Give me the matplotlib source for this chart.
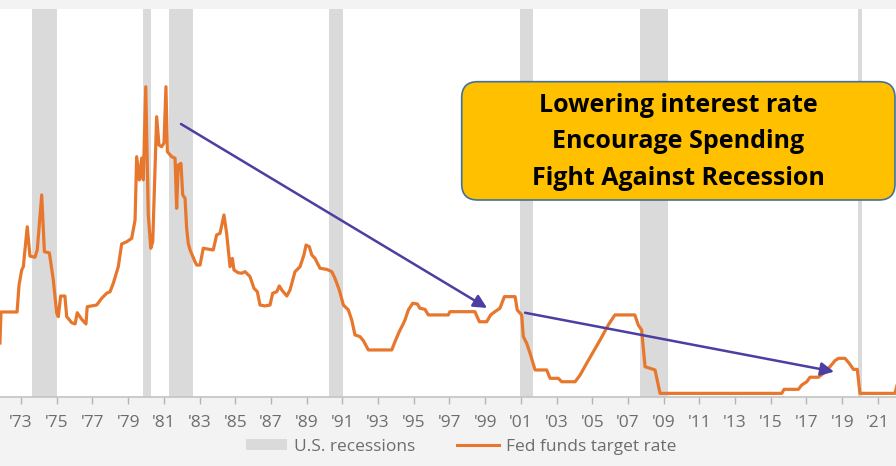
import matplotlib
matplotlib.use("Agg")
import matplotlib.pyplot as plt
from matplotlib.patches import FancyBboxPatch, Patch
from matplotlib.lines import Line2D

# Fed funds target rate (%)
rate_years = [1971.82, 1971.88, 1972.78, 1972.89, 1973.04, 1973.13, 1973.35, 1973.50, 1973.78, 1973.91,
              1974.16, 1974.31, 1974.59, 1974.81, 1975.00, 1975.09, 1975.22, 1975.46, 1975.56, 1975.84,
              1976.03, 1976.15, 1976.40, 1976.64, 1976.71, 1977.24, 1977.52, 1977.80, 1977.99, 1978.17,
              1978.45, 1978.64, 1978.92, 1979.20, 1979.39, 1979.48, 1979.63, 1979.76, 1979.85, 1979.99,
              1980.13, 1980.27, 1980.38, 1980.60, 1980.73, 1980.88, 1981.01, 1981.12, 1981.20, 1981.44,
              1981.63, 1981.72, 1981.81, 1981.96, 1982.06, 1982.19, 1982.28, 1982.37, 1982.47, 1982.75,
              1982.84, 1983.03, 1983.21, 1983.77, 1983.96, 1984.15, 1984.37, 1984.52, 1984.71, 1984.84,
              1984.93, 1985.17, 1985.36, 1985.55, 1985.83, 1986.05, 1986.24, 1986.39, 1986.67, 1986.95,
              1987.10, 1987.33, 1987.47, 1987.61, 1987.89, 1988.07, 1988.35, 1988.63, 1988.85, 1988.97,
              1989.15, 1989.29, 1989.47, 1989.75, 1990.13, 1990.41, 1990.59, 1990.83, 1991.06, 1991.34,
              1991.53, 1991.71, 1991.99, 1992.18, 1992.46, 1993.77, 1993.95, 1994.19, 1994.38, 1994.51,
              1994.70, 1994.94, 1995.20, 1995.35, 1995.63, 1995.82, 1996.94, 1997.03, 1998.43, 1998.68,
              1999.09, 1999.31, 1999.55, 1999.83, 2000.08, 2000.68, 2000.80, 2001.05, 2001.14, 2001.33,
              2001.52, 2001.80, 2002.45, 2002.64, 2003.10, 2003.29, 2004.04, 2004.32, 2004.69, 2005.44,
              2005.90, 2006.27, 2007.39, 2007.58, 2007.77, 2007.96, 2008.52, 2008.80, 2015.62, 2015.75,
              2016.55, 2016.74, 2017.02, 2017.20, 2017.67, 2017.95, 2018.32, 2018.60, 2018.79, 2019.16,
              2019.40, 2019.63, 2019.85, 2020.00, 2021.96, 2022.07]
rate_values = [3.42, 5.42, 5.42, 7.16, 8.13, 8.34, 10.92, 9.03, 8.95, 9.42,
               12.97, 9.31, 9.23, 7.48, 5.35, 5.12, 6.45, 6.45, 5.12, 4.73,
               4.65, 5.37, 4.95, 4.65, 5.76, 5.87, 6.30, 6.63, 6.73, 7.27,
               8.34, 9.81, 9.95, 10.17, 11.35, 15.44, 13.94, 15.35, 13.94, 19.95,
               11.68, 9.53, 9.95, 18.02, 16.19, 16.08, 16.32, 19.95, 15.76, 15.44,
               15.34, 12.11, 14.90, 15.01, 12.97, 12.75, 10.82, 9.85, 9.42, 8.66,
               8.45, 8.45, 9.53, 9.42, 10.39, 10.50, 11.68, 10.50, 8.34, 8.88,
               8.13, 7.95, 7.92, 8.02, 7.70, 6.95, 6.73, 5.87, 5.81, 5.87,
               6.63, 6.73, 7.10, 6.84, 6.45, 6.84, 8.02, 8.34, 9.10, 9.74,
               9.63, 9.10, 8.88, 8.24, 8.17, 8.02, 7.59, 6.84, 5.87, 5.55,
               4.90, 3.94, 3.83, 3.57, 2.97, 2.97, 3.50, 4.15, 4.58, 4.90,
               5.55, 5.98, 5.94, 5.66, 5.59, 5.23, 5.23, 5.44, 5.44, 4.79,
               4.79, 5.23, 5.44, 5.66, 6.41, 6.41, 5.55, 5.23, 3.83, 3.40,
               2.75, 1.68, 1.68, 1.14, 1.14, 0.92, 0.92, 1.35, 2.11, 3.61,
               4.58, 5.23, 5.23, 4.58, 4.26, 1.89, 1.68, 0.17, 0.17, 0.43,
               0.43, 0.71, 0.92, 1.21, 1.21, 1.46, 1.89, 2.28, 2.43, 2.43,
               2.11, 1.72, 1.72, 0.17, 0.17, 0.65]

recession_starts = [1973.60, 1979.81, 1981.31, 1990.27, 2000.96, 2007.68, 2019.87]
recession_ends = [1975.00, 1980.31, 1982.65, 1991.02, 2001.70, 2009.27, 2020.10]

tick_years = list(range(1973, 2022, 2))
tick_labels = ["'" + str(y)[2:] for y in tick_years]

arrow_starts = [(1981.96, 17.55), (2001.24, 5.37)]
arrow_ends = [(1999.11, 5.68), (2018.55, 1.57)]

box_lines = ["Lowering interest rate", "Encourage Spending", "Fight Against Recession"]

ORANGE = "#e8772e"
GREY_BAR = "#dadada"
TEXT_GREY = "#6d6d6d"
PURPLE = "#4c3ea2"

W, H = 896, 466
fig = plt.figure(figsize=(W / 100, H / 100), dpi=100, facecolor="#f3f3f3")
ax = fig.add_axes([0, (H - 397) / H, 1, (397 - 9) / H], facecolor="white")

for s, e in zip(recession_starts, recession_ends):
    ax.axvspan(s, e, color=GREY_BAR, lw=0, zorder=1)

ax.plot(rate_years, rate_values, color=ORANGE, lw=2.3, zorder=3)

for (x0, y0), (x1, y1) in zip(arrow_starts, arrow_ends):
    ax.annotate("", xy=(x1, y1), xytext=(x0, y0),
                arrowprops=dict(arrowstyle="-|>", color=PURPLE, lw=1.8,
                                mutation_scale=20, shrinkA=0, shrinkB=0),
                zorder=4)

ax.set_xlim(1973 - 21 / 17.85, 1973 + 875 / 17.85)
ax.set_ylim((396 - 397) / 15.5, (396 - 9) / 15.5)
ax.set_xticks(tick_years)
ax.set_xticklabels(tick_labels, fontsize=12.5, color=TEXT_GREY, family="Open Sans")
ax.set_yticks([])
ax.tick_params(axis="x", length=5, width=1, color="#b5b5b5", pad=8)
for side in ["top", "left", "right"]:
    ax.spines[side].set_visible(False)
ax.spines["bottom"].set_color("#c4c4c4")
ax.spines["bottom"].set_linewidth(1.2)

# yellow call-out box
bx0, by0, bx1, by1 = 461.7, 81.7, 895, 200
box = FancyBboxPatch(((bx0 + 12) / W, (H - by1 + 12) / H), (bx1 - bx0 - 24) / W, (by1 - by0 - 24) / H,
                     boxstyle="round,pad=0", transform=fig.transFigure,
                     facecolor="#ffc000", edgecolor="#41719c", lw=1.2, zorder=5,
                     mutation_aspect=W / H)
box.set_boxstyle("round", pad=12 / W, rounding_size=16 / W)
fig.patches.append(box)
fig.text(678 / W, 1 - 142 / H, "\n".join(box_lines), ha="center", va="center",
         fontsize=18, fontweight="bold", family="Open Sans", color="black",
         linespacing=1.63, zorder=6)

handles = [Patch(facecolor=GREY_BAR, edgecolor="none"),
           Line2D([], [], color=ORANGE, lw=2.2)]
fig.legend(handles, ["U.S. recessions", "Fed funds target rate"], loc="center",
           bbox_to_anchor=(461 / W, 1 - 447 / H), ncol=2, frameon=False,
           prop={"family": "Open Sans", "size": 12.5}, labelcolor=TEXT_GREY,
           handlelength=2.4, handleheight=0.6, handletextpad=0.4, columnspacing=2.4)

fig.savefig("out.png", dpi=100, facecolor=fig.get_facecolor())
